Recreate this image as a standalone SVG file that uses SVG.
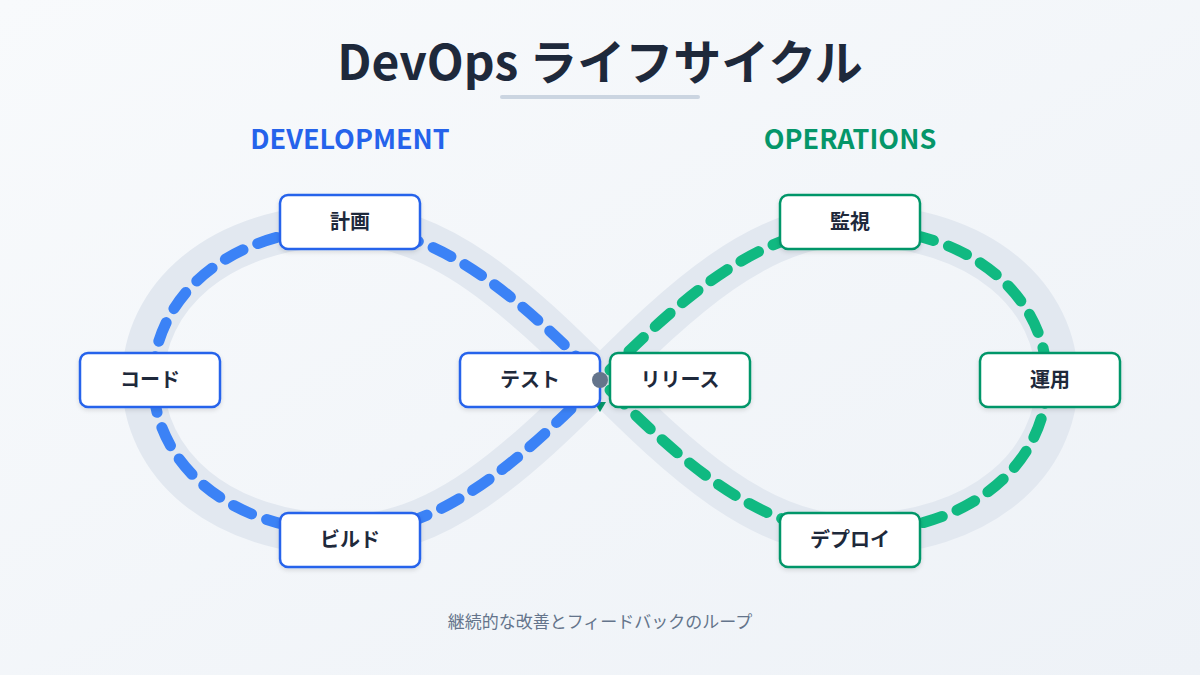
<svg xmlns="http://www.w3.org/2000/svg" width="1200" height="675" viewBox="0 0 1200 675">
<defs>
<linearGradient id="bg" x1="0" y1="0" x2="1" y2="1"><stop offset="0" stop-color="#f8fafc"/><stop offset="1" stop-color="#eef2f7"/></linearGradient>
<filter id="sh" x="-20%" y="-20%" width="140%" height="160%"><feDropShadow dx="0" dy="2" stdDeviation="2" flood-color="#000" flood-opacity="0.12"/></filter>
</defs>
<style>
.t{font-family:"Noto Sans CJK JP","Noto Sans",sans-serif;}
.band{fill:none;stroke:#e2e8f0;stroke-width:42}
.dash{fill:none;stroke-width:11;stroke-linecap:round;stroke-dasharray:20 16}
.nb{fill:#fff;stroke:#2563eb;stroke-width:2.5}
.ng{fill:#fff;stroke:#059669;stroke-width:2.5}
.lb{font-size:20px;font-weight:700;fill:#1e293b;text-anchor:middle}
</style>
<rect width="1200" height="675" fill="url(#bg)"/>
<text class="t" x="600" y="80" font-size="48" font-weight="700" fill="#1e293b" text-anchor="middle">DevOps ライフサイクル</text>
<line x1="502" y1="97" x2="698" y2="97" stroke="#cbd5e1" stroke-width="4" stroke-linecap="round"/>
<text class="t" x="350" y="149" font-size="27" font-weight="700" fill="#2563eb" text-anchor="middle">DEVELOPMENT</text>
<text class="t" x="850" y="149" font-size="27" font-weight="700" fill="#059669" text-anchor="middle">OPERATIONS</text>
<g id="connectors">
<path class="band" d="M600,380 C520,300 440,225 350,225 C215,225 143,300 143,380 C143,460 215,535 350,535 C440,535 520,460 600,380 C680,300 760,225 850,225 C985,225 1057,300 1057,380 C1057,460 985,535 850,535 C760,535 680,460 600,380Z"/>
<path class="dash" stroke="#3b82f6" d="M590,370 C520,300 440,228 350,228 C225,228 153,300 153,380 C153,460 225,532 350,532 C440,532 520,460 590,390"/>
<path class="dash" stroke="#10b981" d="M610,390 C680,460 760,532 850,532 C975,532 1047,460 1047,380 C1047,300 975,228 850,228 C760,228 680,300 610,370"/>
<path d="M594,402 L606,402 L600,412Z" fill="#059669"/>
</g>
<g id="n-plan" class="t"><rect class="nb" x="280" y="195" width="140" height="54" rx="8" filter="url(#sh)"/><text class="lb" x="350" y="229">計画</text></g>
<g id="n-code" class="t"><rect class="nb" x="80" y="353" width="140" height="54" rx="8" filter="url(#sh)"/><text class="lb" x="150" y="387">コード</text></g>
<g id="n-test" class="t"><rect class="nb" x="460" y="353" width="140" height="54" rx="8" filter="url(#sh)"/><text class="lb" x="530" y="387">テスト</text></g>
<g id="n-build" class="t"><rect class="nb" x="280" y="513" width="140" height="54" rx="8" filter="url(#sh)"/><text class="lb" x="350" y="547">ビルド</text></g>
<g id="n-monitor" class="t"><rect class="ng" x="780" y="195" width="140" height="54" rx="8" filter="url(#sh)"/><text class="lb" x="850" y="229">監視</text></g>
<g id="n-release" class="t"><rect class="ng" x="610" y="353" width="140" height="54" rx="8" filter="url(#sh)"/><text class="lb" x="680" y="387">リリース</text></g>
<g id="n-operate" class="t"><rect class="ng" x="980" y="353" width="140" height="54" rx="8" filter="url(#sh)"/><text class="lb" x="1050" y="387">運用</text></g>
<g id="n-deploy" class="t"><rect class="ng" x="780" y="513" width="140" height="54" rx="8" filter="url(#sh)"/><text class="lb" x="850" y="547">デプロイ</text></g>
<circle cx="600" cy="380" r="8" fill="#64748b"/>
<text class="t" x="600" y="628" font-size="17" fill="#64748b" text-anchor="middle">継続的な改善とフィードバックのループ</text>
</svg>
